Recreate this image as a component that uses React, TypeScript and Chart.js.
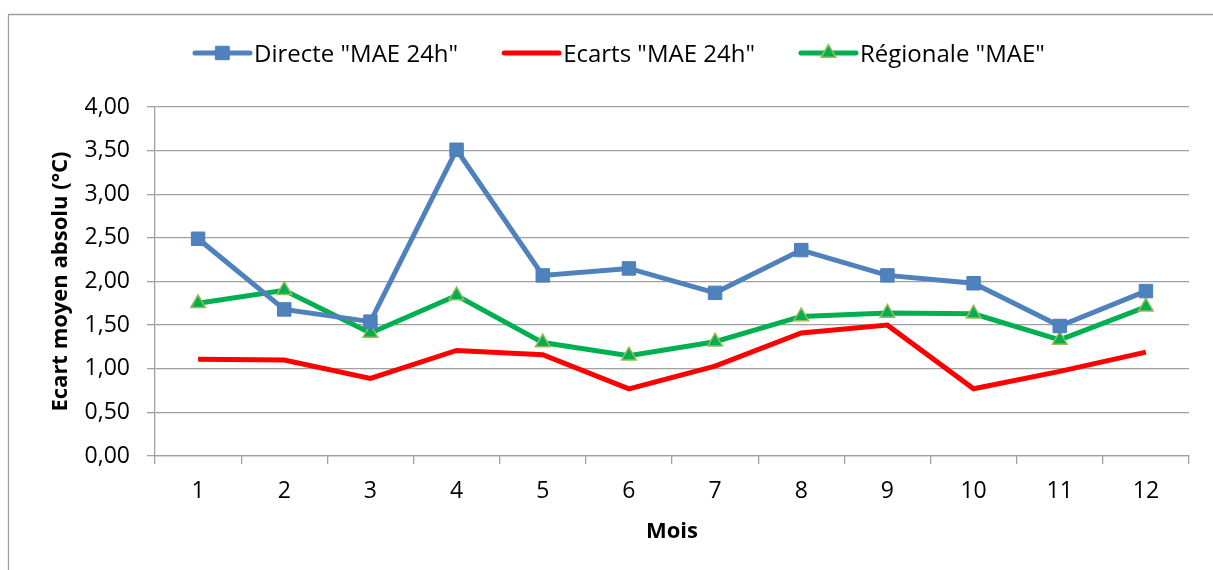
import React, { useEffect, useRef } from "react";
import { Chart, registerables } from "chart.js";

Chart.register(...registerables);

const months = ["1", "2", "3", "4", "5", "6", "7", "8", "9", "10", "11", "12"];
const directe = [2.49, 1.68, 1.54, 3.51, 2.07, 2.15, 1.87, 2.36, 2.07, 1.98, 1.49, 1.89];
const ecarts = [1.11, 1.1, 0.89, 1.21, 1.16, 0.77, 1.03, 1.41, 1.5, 0.77, 0.97, 1.19];
const regionale = [1.75, 1.9, 1.41, 1.84, 1.3, 1.15, 1.31, 1.6, 1.64, 1.63, 1.33, 1.71];
const seriesNames = ['Directe "MAE 24h"', 'Ecarts "MAE 24h"', 'Régionale "MAE"'];

const FONT = "'Open Sans', 'DejaVu Sans', sans-serif";
const GRID = "#a0a0a0";

const legendPlugin = {
  id: "excelLegend",
  afterDraw(chart: any) {
    const ctx = chart.ctx;
    ctx.save();
    ctx.font = `24px ${FONT}`;
    ctx.textBaseline = "alphabetic";
    ctx.fillStyle = "#000";
    let x = 195;
    const y = 53;
    const lineLen = 55;
    chart.data.datasets.forEach((ds: any) => {
      ctx.strokeStyle = ds.borderColor;
      ctx.lineWidth = ds.borderWidth;
      ctx.lineCap = "round";
      ctx.beginPath();
      ctx.moveTo(x, y);
      ctx.lineTo(x + lineLen, y);
      ctx.stroke();
      const cx = x + lineLen / 2;
      if (ds.pointRadius > 0) {
        ctx.fillStyle = ds.pointBackgroundColor;
        ctx.strokeStyle = ds.pointBorderColor;
        ctx.lineWidth = ds.pointBorderWidth;
        ctx.beginPath();
        if (ds.pointStyle === "rect") {
          const s = Math.SQRT1_2 * ds.pointRadius;
          ctx.rect(cx - s, y - s, 2 * s, 2 * s);
        } else {
          const r = ds.pointRadius;
          ctx.moveTo(cx, y - r);
          ctx.lineTo(cx + r * Math.sin((2 * Math.PI) / 3), y - r * Math.cos((2 * Math.PI) / 3));
          ctx.lineTo(cx + r * Math.sin((4 * Math.PI) / 3), y - r * Math.cos((4 * Math.PI) / 3));
          ctx.closePath();
        }
        ctx.fill();
        ctx.stroke();
      }
      ctx.fillStyle = "#000";
      ctx.fillText(ds.label, x + lineLen + 4, y + 9);
      x += lineLen + 4 + ctx.measureText(ds.label).width + 46;
    });
    ctx.restore();
  },
};

const framePlugin = {
  id: "frame",
  beforeDraw(chart: any) {
    const ctx = chart.ctx;
    ctx.save();
    ctx.fillStyle = "#fff";
    ctx.fillRect(0, 0, chart.width, chart.height);
    ctx.strokeStyle = GRID;
    ctx.lineWidth = 1.3;
    ctx.beginPath();
    ctx.moveTo(8.5, chart.height);
    ctx.lineTo(8.5, 14.5);
    ctx.lineTo(chart.width, 14.5);
    ctx.stroke();
    ctx.restore();
  },
};

export default function App() {
  const ref = useRef<HTMLCanvasElement>(null);
  useEffect(() => {
    if (!ref.current) return;
    const chart = new Chart(ref.current, {
      type: "line",
      data: {
        labels: months,
        datasets: [
          {
            label: seriesNames[0],
            data: directe,
            borderColor: "#4f81bd",
            backgroundColor: "#4f81bd",
            borderWidth: 5,
            pointStyle: "rect",
            pointRadius: 9.5,
            pointBackgroundColor: "#4f81bd",
            pointBorderColor: "#4a7ebb",
            pointBorderWidth: 1,
            tension: 0,
          },
          {
            label: seriesNames[1],
            data: ecarts,
            borderColor: "#ff0000",
            backgroundColor: "#ff0000",
            borderWidth: 5,
            pointRadius: 0,
            pointHoverRadius: 0,
            tension: 0,
          },
          {
            label: seriesNames[2],
            data: regionale,
            borderColor: "#00b050",
            backgroundColor: "#00b050",
            borderWidth: 5,
            pointStyle: "triangle",
            pointRadius: 8.5,
            pointBackgroundColor: "#00b050",
            pointBorderColor: "#9bbb59",
            pointBorderWidth: 1.5,
            tension: 0,
          },
        ],
      },
      options: {
        animation: false,
        responsive: false,
        maintainAspectRatio: false,
        layout: { padding: { top: 107, left: 0, right: 24, bottom: 0 } },
        plugins: { legend: { display: false }, tooltip: { enabled: false } },
        scales: {
          x: {
            offset: true,
            afterFit: (s: any) => {
              s.height = 114;
            },
            grid: {
              drawOnChartArea: false,
              drawTicks: true,
              tickLength: 8,
              color: GRID,
              lineWidth: 1.3,
              offset: true,
            },
            border: { color: GRID, width: 1.3 },
            ticks: { color: "#000", font: { family: FONT, size: 23 }, padding: 14, maxRotation: 0 },
            title: {
              display: true,
              text: "Mois",
              color: "#000",
              font: { family: FONT, size: 22, weight: "bold" },
              padding: { top: 0, bottom: 25 },
            },
          },
          y: {
            min: 0,
            max: 4,
            afterFit: (s: any) => {
              s.width = 155;
            },
            grid: { color: GRID, lineWidth: 1.3, tickLength: 8 },
            border: { color: GRID, width: 1.3 },
            ticks: {
              stepSize: 0.5,
              color: "#000",
              font: { family: FONT, size: 23 },
              padding: 17,
              callback: (v: any) => Number(v).toFixed(2).replace(".", ","),
            },
            title: {
              display: true,
              text: "Ecart moyen absolu (°C)",
              color: "#000",
              font: { family: FONT, size: 22, weight: "bold" },
              padding: { top: 48, bottom: 0 },
            },
          },
        },
      },
      plugins: [framePlugin, legendPlugin],
    });
    return () => chart.destroy();
  }, []);
  return (
    <div style={{ position: "absolute", left: 0, top: 0, width: 1213, height: 570 }}>
      <canvas ref={ref} width={1213} height={570} style={{ display: "block", width: 1213, height: 570 }} />
    </div>
  );
}
